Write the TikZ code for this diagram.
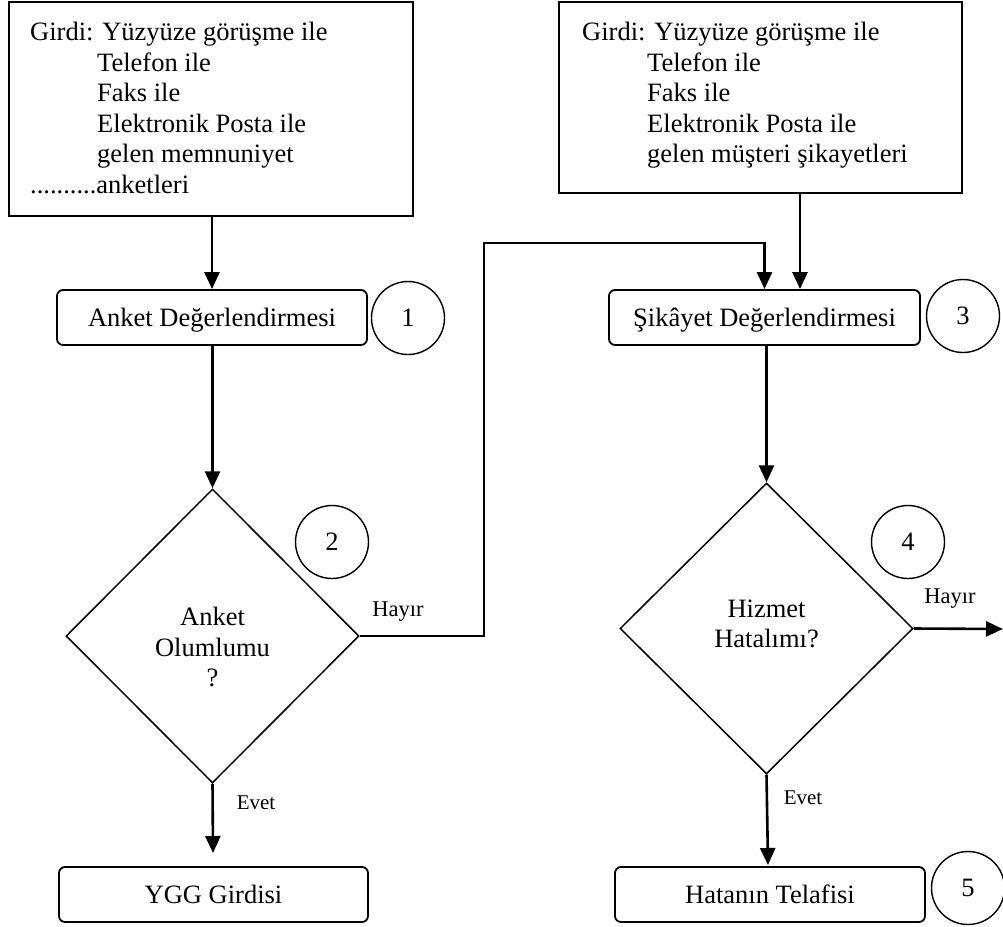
\documentclass[tikz,border=0pt]{standalone}
\usepackage{fontspec}
\setmainfont{Liberation Serif}
\usetikzlibrary{shapes.geometric,arrows.meta}
\begin{document}
\begin{tikzpicture}[x=1pt,y=-1pt,
  every node/.style={inner sep=0pt},
  bigtxt/.style={font=\fontsize{26.5}{30.5}\selectfont},
  smalltxt/.style={font=\fontsize{21}{24}\selectfont},
  hayirtxt/.style={font=\fontsize{22.5}{24}\selectfont},
  inbox/.style={draw, line width=2.4pt, minimum width=#1, minimum height=214pt},
  procbox/.style={draw, line width=1.8pt, rounded corners=6pt, minimum width=310pt, minimum height=55pt, bigtxt, text depth=1pt},
  numc/.style={draw, circle, line width=1.4pt, minimum size=73pt, bigtxt},
  decis/.style={draw, diamond, line width=1.5pt, minimum width=293pt, minimum height=#1},
  arr/.style={line width=2.6pt, -{Triangle[length=17pt,width=15pt]}}
]
\useasboundingbox (0,0) rectangle (1003,926);

% input boxes
\node[inbox=404pt] (inA) at (211,109) {};
\node[bigtxt, align=left, anchor=north west] (txA) at (30,22)
  {Girdi: Yüzyüze görüşme ile\\
   \hspace*{67pt}Telefon ile\\
   \hspace*{67pt}Faks ile\\
   \hspace*{67pt}Elektronik Posta ile\\
   \hspace*{67pt}gelen memnuniyet\\
   ..........anketleri};
\node[inbox=403pt, minimum height=191pt] (inB) at (760.5,97.5) {};
\node[bigtxt, align=left, anchor=north west] (txB) at (582,22)
  {Girdi: Yüzyüze görüşme ile\\
   \hspace*{65pt}Telefon ile\\
   \hspace*{65pt}Faks ile\\
   \hspace*{65pt}Elektronik Posta ile\\
   \hspace*{65pt}gelen müşteri şikayetleri};

% process boxes
\node[procbox] (ank) at (212,317.5) {Anket Değerlendirmesi};
\node[procbox, minimum width=311pt] (sik) at (764.5,317.5) {Şikâyet Değerlendirmesi};
\node[procbox, minimum width=309pt] (ygg) at (213.5,894.5) {YGG Girdisi};
\node[procbox] (hat) at (770,894.5) {Hatanın Telafisi};

% number circles
\node[numc] (c1) at (408,318) {1};
\node[numc] (c2) at (332,542) {2};
\node[numc] (c3) at (963,316) {3};
\node[numc] (c4) at (908,542) {4};
\node[numc] (c5) at (968,888) {5};

% decisions
\node[decis=294pt] (d1) at (212.5,636) {};
\node[bigtxt, align=center] (dt1) at (212.5,647) {Anket\\Olumlumu\\?};
\node[decis=291pt] (d2) at (766.5,628.5) {};
\node[bigtxt, align=center] (dt2) at (766.5,624) {Hizmet\\Hatalımı?};

% labels
\node[hayirtxt] (h1) at (398,612) {Hayır};
\node[hayirtxt] (h2) at (950,599) {Hayır};
\node[smalltxt] (e1) at (256,803) {Evet};
\node[smalltxt] (e2) at (803,798) {Evet};

% helper coordinates
\coordinate (hb) at (484,243);
\coordinate (hend) at (1003,629);
\coordinate (ye) at (213,853);
\coordinate (he) at (768,865);

% connectors
\draw[arr] (inA.south -| ank.north) -- (ank.north);
\draw[arr] (ank.south -| d1.north) -- (d1.north);
\draw[arr] (inB.south -| 800,0) -- ([xshift=35.5pt]sik.north);
\draw[arr] (d1.east) -| (hb) -| (sik.north);
\draw[arr] (sik.south -| d2.north) -- (d2.north);
\draw[arr] (d2.east) -- (hend);
\draw[arr] (d1.south) -- (ye);
\draw[arr] (d2.south) -- (he);
\end{tikzpicture}
\end{document}
